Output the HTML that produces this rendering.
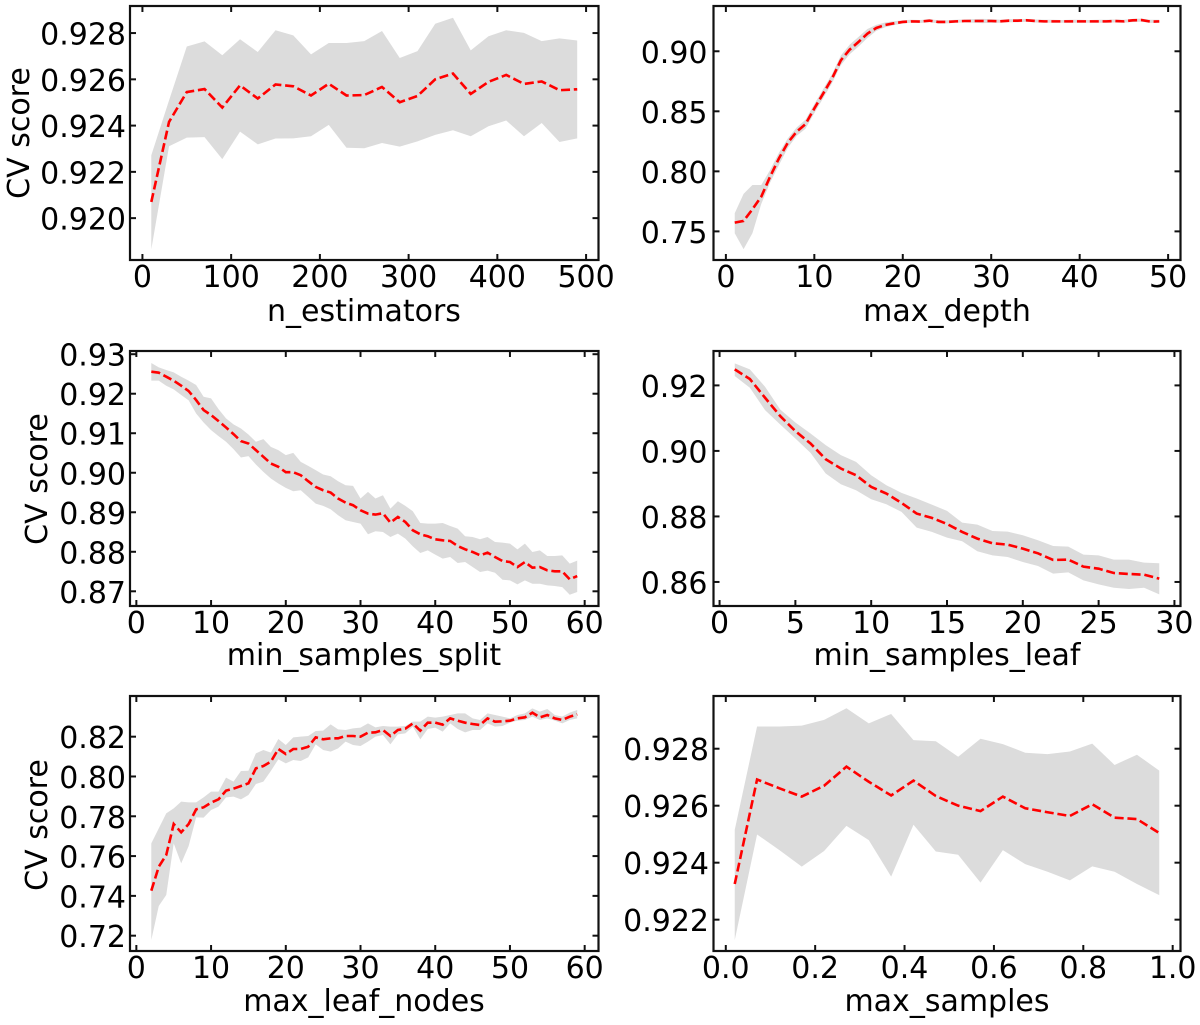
<!DOCTYPE html>
<html lang="en">
<head>
<meta charset="utf-8">
<title>CV score vs hyperparameters</title>
<style>
html,body{margin:0;padding:0;background:#fff;}
svg{display:block;font-family:"DejaVu Sans","Liberation Sans",sans-serif;fill:#000;}
.title{font-size:30px;}
.tick{font-size:30px;}
</style>
</head>
<body>
<svg id="chart" xmlns="http://www.w3.org/2000/svg" width="1200" height="1025" viewBox="0 0 1200 1025">
  <text class="title" x="364" y="321" text-anchor="middle">n_estimators</text>
  <text class="title" x="947" y="321" text-anchor="middle">max_depth</text>
  <text class="title" x="364" y="665" text-anchor="middle">min_samples_split</text>
  <text class="title" x="947" y="665" text-anchor="middle">min_samples_leaf</text>
  <text class="title" x="364" y="1011" text-anchor="middle">max_leaf_nodes</text>
  <text class="title" x="947" y="1011" text-anchor="middle">max_samples</text>
  <text class="title" text-anchor="middle" transform="translate(29,133) rotate(-90)">CV score</text>
  <text class="title" text-anchor="middle" transform="translate(47,479) rotate(-90)">CV score</text>
  <text class="title" text-anchor="middle" transform="translate(47,825) rotate(-90)">CV score</text>
</svg>
<script>
// ---- n_estimators ----
const nEstX = [10,30,50,70,90,110,130,150,170,190,210,230,250,270,290,310,330,350,370,390,410,430,450,470,490];
const nEstMean = [.92070,.92416,.92545,.92558,.92478,.92574,.92517,.92578,.92570,.92530,.92581,.92530,.92532,.92567,.92501,.92528,.92600,.92625,.92537,.92589,.92619,.92580,.92591,.92553,.92557];
const nEstUpper = [.92272,.92509,.92742,.92764,.92704,.92773,.92718,.92812,.9279,.92708,.92757,.92757,.92765,.92809,.92692,.92722,.9284,.92866,.92725,.92786,.92812,.92801,.92765,.92777,.92768];
const nEstLower = [.91865,.92311,.92348,.9235,.92255,.92374,.92319,.92344,.92345,.92354,.92403,.92304,.92302,.92325,.92309,.92332,.9236,.9238,.92354,.92397,.92422,.92354,.92411,.92329,.92345];
const nEstXTicks = [0,100,200,300,400,500];
const nEstYTicks = [.920,.922,.924,.926,.928];

// ---- max_depth ----
const depthX = [1,2,3,4,5,6,7,8,9,10,11,12,13,14,15,16,17,18,19,20,21,22,23,24,25,26,27,28,29,30,31,32,33,34,35,36,37,38,39,40,41,42,43,44,45,46,47,48,49];
const depthMean = [.7573,.7587,.7684,.7789,.7956,.8108,.8238,.8330,.8393,.8524,.8648,.8773,.8925,.9014,.9078,.9147,.9194,.9219,.9233,.9244,.9249,.9247,.9255,.9244,.9244,.9249,.9252,.9252,.9252,.9252,.9249,.9255,.9255,.9258,.9252,.9249,.9249,.9249,.9249,.9249,.9249,.9249,.9249,.9252,.9249,.9258,.9260,.9247,.9249];
const depthUpper = [.7651,.7812,.7886,.7886,.8011,.8155,.8275,.8365,.8430,.8560,.8685,.8810,.8965,.9055,.9120,.9185,.9220,.9240,.9250,.9258,.9262,.9260,.9268,.9258,.9258,.9262,.9265,.9268,.9270,.9268,.9262,.9268,.9268,.9270,.9265,.9262,.9262,.9260,.9262,.9262,.9260,.9262,.9262,.9265,.9262,.9270,.9272,.9262,.9262];
const depthLower = [.7485,.7352,.7485,.7729,.7906,.8053,.8195,.8295,.8355,.8485,.8610,.8735,.8885,.8975,.9040,.9110,.9170,.9200,.9218,.9232,.9238,.9235,.9242,.9232,.9232,.9238,.9240,.9238,.9234,.9236,.9238,.9242,.9242,.9246,.9240,.9238,.9238,.9238,.9238,.9238,.9238,.9238,.9238,.9240,.9238,.9244,.9246,.9236,.9236];
const depthXTicks = [0,10,20,30,40,50];
const depthYTicks = [.75,.80,.85,.90];

// ---- min_samples_split ----
const splitX = [2,3,4,5,6,7,8,9,10,11,12,13,14,15,16,17,18,19,20,21,22,23,24,25,26,27,28,29,30,31,32,33,34,35,36,37,38,39,40,41,42,43,44,45,46,47,48,49,50,51,52,53,54,55,56,57,58,59];
const splitMean = [.92558,.92532,.92431,.9233,.92203,.92068,.9184,.91586,.91459,.91307,.91147,.90978,.908,.90741,.90572,.90403,.90234,.9015,.90014,.90014,.89938,.89786,.89642,.89558,.89499,.89347,.89245,.89178,.89051,.88966,.88941,.88975,.88738,.88882,.88755,.88544,.88443,.88392,.88316,.8829,.88274,.88147,.88062,.87995,.8791,.87978,.87868,.87767,.87741,.87614,.87741,.87597,.87614,.8753,.87505,.87505,.87302,.87386];
const splitUpper = [.92777,.92668,.926,.92541,.92431,.9233,.9222,.91924,.91882,.91611,.91375,.91223,.91121,.90969,.90783,.90851,.90656,.90572,.90445,.90504,.90276,.90175,.90065,.89955,.89913,.89786,.89685,.89668,.89347,.89516,.89347,.89431,.89093,.89279,.89161,.89026,.8873,.88713,.88713,.8873,.88654,.88586,.88392,.88375,.88316,.88375,.88248,.88231,.88206,.88062,.88206,.87995,.88037,.87893,.87893,.8791,.87699,.87775];
const splitLower = [.9233,.9233,.92203,.9211,.91966,.91831,.91501,.91273,.91079,.90927,.90783,.90597,.90386,.9042,.90209,.90023,.89854,.89727,.89617,.89533,.89558,.89389,.8922,.89161,.89076,.88924,.88797,.88755,.88713,.88443,.88519,.88502,.88375,.88459,.88333,.88138,.87969,.88037,.87927,.87826,.87868,.87716,.87741,.87614,.87488,.87522,.87471,.87293,.87276,.87175,.87276,.87192,.87192,.8715,.87133,.87107,.86913,.86981];
const splitXTicks = [0,10,20,30,40,50,60];
const splitYTicks = [.87,.88,.89,.90,.91,.92,.93];

// ---- min_samples_leaf ----
const leafX = [1,2,3,4,5,6,7,8,9,10,11,12,13,14,15,16,17,18,19,20,21,22,23,24,25,26,27,28,29];
const leafMean = [.92489,.92194,.91623,.91063,.90604,.90227,.89748,.89463,.89259,.88902,.88698,.88413,.88087,.87955,.87771,.87527,.87323,.8718,.87139,.87017,.86874,.86671,.86681,.86467,.86406,.86273,.86243,.86222,.861];
const leafUpper = [.92673,.92489,.91959,.91266,.90869,.90533,.90176,.8987,.89666,.89259,.88953,.88719,.88546,.88362,.88169,.87812,.87751,.87557,.87537,.87425,.87272,.87099,.87078,.86834,.86813,.86681,.86681,.86589,.86569];
const leafLower = [.92285,.91929,.91246,.90808,.9038,.89942,.8931,.88984,.888,.88525,.88372,.88138,.87659,.87527,.87353,.87241,.86936,.86813,.86762,.86609,.86487,.86253,.86294,.86049,.85927,.85825,.85784,.85825,.85621];
const leafXTicks = [0,5,10,15,20,25,30];
const leafYTicks = [.86,.88,.90,.92];

// ---- max_leaf_nodes ----
const nodesX = [2,3,4,5,6,7,8,9,10,11,12,13,14,15,16,17,18,19,20,21,22,23,24,25,26,27,28,29,30,31,32,33,34,35,36,37,38,39,40,41,42,43,44,45,46,47,48,49,50,51,52,53,54,55,56,57,58,59];
const nodesMean = [.74261,.75467,.76054,.77611,.77193,.77611,.78348,.78449,.78683,.78851,.79286,.79387,.79521,.79655,.80409,.80526,.80744,.8138,.81129,.8138,.8138,.81497,.81967,.81866,.81916,.81916,.82034,.82034,.82,.82201,.82218,.82335,.82034,.82335,.82402,.8267,.82302,.82704,.82704,.82603,.82921,.82804,.82704,.82637,.82586,.82921,.82754,.82771,.82804,.82921,.82972,.83206,.82972,.83089,.82921,.82838,.83005,.83122];
const nodesUpper = [.7664,.77394,.78147,.78399,.78734,.787,.787,.78951,.79236,.79236,.7994,.79739,.80275,.80291,.81162,.8133,.81196,.81883,.81581,.81967,.82,.82034,.82285,.82302,.8262,.82369,.82335,.82419,.82452,.8267,.82469,.82536,.82503,.82503,.82536,.82754,.82754,.83005,.82955,.83005,.83089,.83173,.83173,.82921,.82838,.83173,.83089,.83005,.82921,.83089,.83173,.83424,.83256,.8339,.83089,.83005,.83206,.8334];
const nodesLower = [.71782,.73491,.74044,.7664,.75635,.76506,.77946,.7793,.78315,.78482,.78951,.78985,.78851,.79069,.79621,.79739,.80275,.80861,.8066,.80827,.80777,.80961,.81615,.8133,.81246,.81414,.81749,.81581,.81531,.81749,.82,.82084,.81615,.82117,.82168,.82503,.81866,.82385,.82452,.82251,.8267,.82385,.82218,.82335,.82335,.8267,.82503,.82536,.82704,.82804,.82838,.83005,.82838,.82921,.82804,.8267,.82838,.82921];
const nodesXTicks = [0,10,20,30,40,50,60];
const nodesYTicks = [.72,.74,.76,.78,.80,.82];

// ---- max_samples ----
const samplesX = [.02,.07,.12,.17,.22,.27,.32,.37,.42,.47,.52,.57,.62,.67,.72,.77,.82,.87,.92,.97];
const samplesMean = [.92325,.92692,.92661,.92632,.9267,.92737,.92684,.92636,.92688,.92634,.926,.92581,.92632,.92591,.92577,.92564,.92605,.92558,.92553,.92504];
const samplesUpper = [.92515,.92878,.92878,.92881,.92901,.92942,.92889,.92922,.9283,.92826,.92772,.92835,.92816,.92786,.92781,.9279,.92818,.92743,.92779,.92723];
const samplesLower = [.92128,.92499,.92444,.92386,.92441,.92529,.92479,.92351,.92533,.92439,.92428,.9233,.92444,.92395,.92368,.92338,.92387,.92368,.92325,.92286];
const samplesXTicks = [0,.2,.4,.6,.8,1];
const samplesYTicks = [.922,.924,.926,.928];

const panels = [
  {id:'n-estimators', x:nEstX, mean:nEstMean, upper:nEstUpper, lower:nEstLower, xTicks:nEstXTicks, yTicks:nEstYTicks, xDec:0, yDec:3, xlim:[-14,514], ylim:[.91819,.92917], box:[130,598.5,6,260], pad:4},
  {id:'max-depth', x:depthX, mean:depthMean, upper:depthUpper, lower:depthLower, xTicks:depthXTicks, yTicks:depthYTicks, xDec:0, yDec:2, xlim:[-1.4,51.4], ylim:[.72617,.9377], box:[713.5,1180.5,6,260], pad:6},
  {id:'min-samples-split', x:splitX, mean:splitMean, upper:splitUpper, lower:splitLower, xTicks:splitXTicks, yTicks:splitYTicks, xDec:0, yDec:2, xlim:[-.85,61.85], ylim:[.86628,.93081], box:[130,598.5,351,606], pad:4},
  {id:'min-samples-leaf', x:leafX, mean:leafMean, upper:leafUpper, lower:leafLower, xTicks:leafXTicks, yTicks:leafYTicks, xDec:0, yDec:2, xlim:[-.4,30.4], ylim:[.85266,.9305], box:[713.5,1180.5,351,606], pad:6},
  {id:'max-leaf-nodes', x:nodesX, mean:nodesMean, upper:nodesUpper, lower:nodesLower, xTicks:nodesXTicks, yTicks:nodesYTicks, xDec:0, yDec:2, xlim:[-.85,61.85], ylim:[.7123,.84044], box:[130,598.5,696,951], pad:4},
  {id:'max-samples', x:samplesX, mean:samplesMean, upper:samplesUpper, lower:samplesLower, xTicks:samplesXTicks, yTicks:samplesYTicks, xDec:1, yDec:3, xlim:[-.0275,1.0175], ylim:[.9209,.92985], box:[713.5,1180.5,696,951], pad:4.5}
];

const svg = document.getElementById('chart');
const NS = 'http://www.w3.org/2000/svg';
function make(tag, attrs, parent){
  const n = document.createElementNS(NS, tag);
  for (const k in attrs) n.setAttribute(k, attrs[k]);
  parent.appendChild(n);
  return n;
}
function scale(dom, r0, r1){
  return v => r0 + (v - dom[0]) / (dom[1] - dom[0]) * (r1 - r0);
}

panels.forEach(p => {
  const [L,R,T,B] = p.box;
  const sx = scale(p.xlim, L, R);
  const sy = scale(p.ylim, B, T);
  const g = make('g', {}, svg);
  
  

  const upperPts = p.x.map((v,i) => sx(v).toFixed(2) + ',' + sy(p.upper[i]).toFixed(2));
  const lowerPts = p.x.map((v,i) => sx(v).toFixed(2) + ',' + sy(p.lower[i]).toFixed(2)).reverse();
  const band = make('polygon', {points: upperPts.concat(lowerPts).join(' '), fill:'#dcdcdc', stroke:'none'}, g);
  
  

  const line = make('polyline', {points: p.x.map((v,i) => sx(v).toFixed(2) + ',' + sy(p.mean[i]).toFixed(2)).join(' '), fill:'none', stroke:'#ff0000', 'stroke-width':'2.6', 'stroke-dasharray':'9 3.8'}, g);
  
  

  p.xTicks.forEach(v => {
    const x = sx(v);
    const t1 = make('line', {x1:x, x2:x, y1:B, y2:B-6, stroke:'#111', 'stroke-width':'2'}, g);
    
    
    const t2 = make('line', {x1:x, x2:x, y1:T, y2:T+6, stroke:'#111', 'stroke-width':'2'}, g);
    
    
    const lab = make('text', {x:x, y:B+27, 'text-anchor':'middle', class:'tick'}, g);
    
    
    lab.textContent = v.toFixed(p.xDec);
  });
  p.yTicks.forEach(v => {
    const y = sy(v);
    const t1 = make('line', {x1:L, x2:L+6, y1:y, y2:y, stroke:'#111', 'stroke-width':'2'}, g);
    
    
    const t2 = make('line', {x1:R, x2:R-6, y1:y, y2:y, stroke:'#111', 'stroke-width':'2'}, g);
    
    
    const lab = make('text', {x:L-p.pad, y:y+11.5, 'text-anchor':'end', class:'tick'}, g);
    
    
    lab.textContent = v.toFixed(p.yDec);
  });

  const frame = make('rect', {x:L, y:T, width:R-L, height:B-T, fill:'none', stroke:'#111', 'stroke-width':'2.2'}, g);
  
  
});
</script>
</body>
</html>
